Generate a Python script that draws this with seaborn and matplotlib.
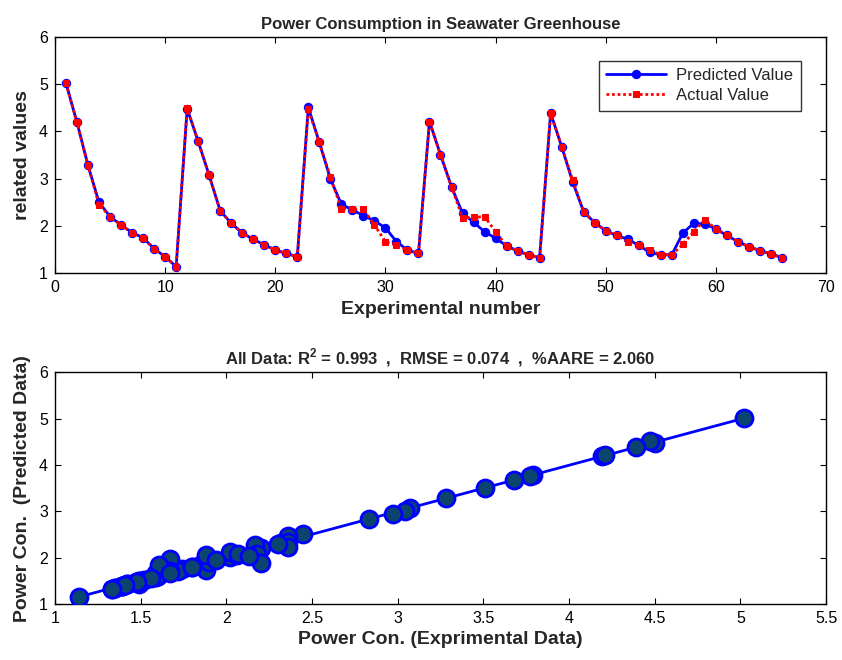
import numpy as np
import pandas as pd
import matplotlib
matplotlib.use("Agg")
import matplotlib.pyplot as plt
import seaborn as sns

experiment = list(range(1, 67))
predicted = [5.02, 4.19, 3.28, 2.50, 2.20, 2.02, 1.86, 1.75, 1.52, 1.35, 1.14,
             4.48, 3.79, 3.07, 2.32, 2.06, 1.85, 1.72, 1.60, 1.49, 1.42, 1.35,
             4.51, 3.77, 3.00, 2.46, 2.34, 2.22, 2.11, 1.96, 1.67, 1.49, 1.42,
             4.21, 3.51, 2.83, 2.27, 2.08, 1.88, 1.74, 1.58, 1.47, 1.39, 1.33,
             4.39, 3.68, 2.93, 2.30, 2.07, 1.90, 1.80, 1.72, 1.59, 1.44, 1.39,
             1.39, 1.85, 2.06, 2.04, 1.94, 1.80, 1.67, 1.56, 1.48, 1.41, 1.33]
actual = [5.02, 4.19, 3.28, 2.45, 2.20, 2.02, 1.86, 1.74, 1.52, 1.35, 1.14,
          4.50, 3.79, 3.07, 2.32, 2.06, 1.85, 1.72, 1.60, 1.49, 1.42, 1.35,
          4.47, 3.77, 3.04, 2.36, 2.36, 2.36, 2.02, 1.67, 1.59, 1.49, 1.42,
          4.21, 3.51, 2.83, 2.17, 2.18, 2.20, 1.88, 1.58, 1.47, 1.39, 1.33,
          4.39, 3.68, 2.97, 2.30, 2.07, 1.90, 1.80, 1.67, 1.59, 1.49, 1.39,
          1.39, 1.61, 1.88, 2.13, 1.94, 1.80, 1.67, 1.56, 1.48, 1.41, 1.33]

top_title = "Power Consumption in Seawater Greenhouse"
bottom_title = r"All Data: R$^\mathbf{2}$ = 0.993  ,  RMSE = 0.074  ,  %AARE = 2.060"

df = pd.DataFrame({"n": experiment, "pred": predicted, "act": actual})

sns.set_theme(style="white")
plt.rcParams['font.family'] = ['Liberation Sans', 'DejaVu Sans']
plt.rcParams['mathtext.fontset'] = 'custom'
plt.rcParams['mathtext.rm'] = 'Liberation Sans'
plt.rcParams['mathtext.bf'] = 'Liberation Sans:bold'

fig = plt.figure(figsize=(8.42, 6.6), dpi=100)
ax1 = fig.add_axes([0.0653, 0.586, 0.9157, 0.358])
ax2 = fig.add_axes([0.0653, 0.085, 0.9157, 0.351])

sns.lineplot(data=df, x="n", y="pred", ax=ax1, color="#0000ff", linewidth=2,
             marker="o", markersize=6, markeredgecolor="#0000ff", label="Predicted Value")
sns.lineplot(data=df, x="n", y="act", ax=ax1, color="#ff0000", linewidth=2,
             linestyle=(0, (1, 1)), marker="s", markersize=5, markeredgecolor="#ff0000",
             label="Actual Value")
ax1.set_xlim(0, 70)
ax1.set_ylim(1, 6)
ax1.set_xticks(range(0, 71, 10))
ax1.set_yticks(range(1, 7))
ax1.set_xlabel("Experimental number", fontsize=14, fontweight="bold", labelpad=4)
ax1.set_ylabel("related values", fontsize=14, fontweight="bold", labelpad=6)
ax1.set_title(top_title, fontsize=12, fontweight="bold", pad=6)
leg = ax1.legend(loc="upper right", bbox_to_anchor=(0.978, 0.935), fontsize=12,
                 frameon=True, fancybox=False, edgecolor="black", handlelength=3.6,
                 borderpad=0.45, labelspacing=0.3, handletextpad=0.6)
leg.get_frame().set_linewidth(1.0)

sns.scatterplot(data=df, x="act", y="pred", ax=ax2, s=150, color="#0c4470",
                edgecolor="#0000ff", linewidth=2, zorder=3)
coef = np.polyfit(df["act"], df["pred"], 1)
xs = np.array([df["act"].min(), df["act"].max()])
fit = pd.DataFrame({"x": xs, "y": np.polyval(coef, xs)})
sns.lineplot(data=fit, x="x", y="y", ax=ax2, color="#0000ff", linewidth=2, zorder=2)
ax2.set_xlim(1, 5.5)
ax2.set_ylim(1, 6)
ax2.set_xticks(np.arange(1, 5.51, 0.5))
ax2.set_xticklabels(["1", "1.5", "2", "2.5", "3", "3.5", "4", "4.5", "5", "5.5"])
ax2.set_yticks(range(1, 7))
ax2.set_xlabel("Power Con. (Exprimental Data)", fontsize=14, fontweight="bold", labelpad=4)
ax2.set_ylabel("Power Con.  (Predicted Data)", fontsize=14, fontweight="bold", labelpad=6)
ax2.set_title(bottom_title, fontsize=12, fontweight="bold", pad=6)

for ax in (ax1, ax2):
    ax.tick_params(direction="in", length=4, width=0.8, top=True, right=True,
                   bottom=True, left=True, labelsize=11.5, pad=5, colors="black")
    for sp in ax.spines.values():
        sp.set_color("black")
        sp.set_linewidth(1.0)

fig.savefig("out.png", dpi=100)
